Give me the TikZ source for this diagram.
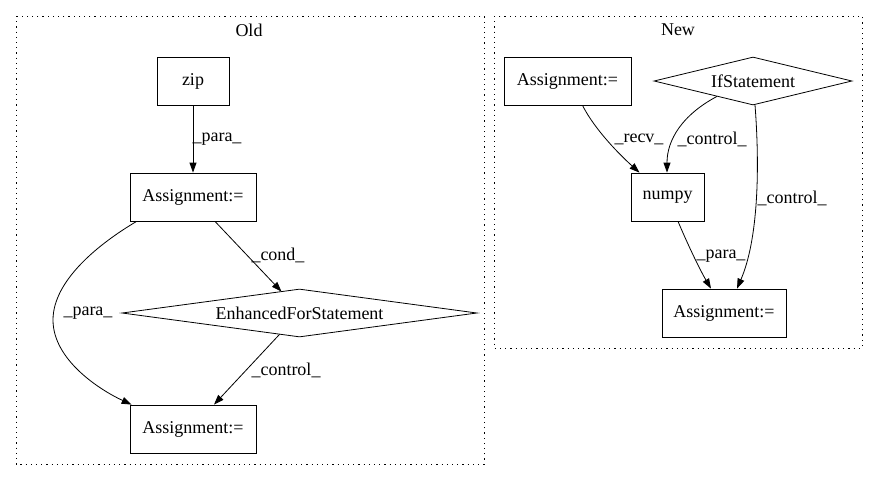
\documentclass[tikz,border=0pt]{standalone}
\usepackage{fontspec}
\setmainfont{Liberation Serif}
\usetikzlibrary{shapes.geometric,arrows.meta,calc}
\begin{document}
\begin{tikzpicture}[x=1pt,y=-1pt,
  every node/.style={font=\fontsize{18}{21}\selectfont},
  box/.style={draw,line width=0.8pt,rectangle,inner sep=0pt},
  dia/.style={draw,line width=0.8pt,diamond,inner sep=0pt},
  cluster/.style={draw,line width=0.8pt,dash pattern=on 1.2pt off 4pt},
  edge/.style={line width=0.8pt,-{Triangle[length=10pt,width=7pt]}},
  elabel/.style={inner sep=0pt}]
\useasboundingbox (0,0) rectangle (879,480);
% clusters
\draw[cluster] (16,16) rectangle (484,464);
\draw[cluster] (494,16) rectangle (862,348);
\node (oldlbl) at (249,30) {Old};
\node (newlbl) at (678,30) {New};
% Old nodes
\node[box,minimum width=72pt,minimum height=48pt] (zip) at (193,81) {zip};
\node[box,minimum width=126pt,minimum height=48pt] (a1) at (193,197) {Assignment:=};
\node[dia,minimum width=355pt,minimum height=48pt,aspect=7.4] (efs) at (299.5,313) {EnhancedForStatement};
\node[box,minimum width=126pt,minimum height=48pt] (a2) at (193,429) {Assignment:=};
% New nodes
\node[box,minimum width=127pt,minimum height=48pt] (a3) at (567.5,81) {Assignment:=};
\node[dia,minimum width=198pt,minimum height=48pt,aspect=4.125] (ifs) at (753,81) {IfStatement};
\node[box,minimum width=73pt,minimum height=48pt] (np) at (667.5,197) {numpy};
\node[box,minimum width=124pt,minimum height=48pt] (a4) at (724,313) {Assignment:=};
% Old edges
\draw[edge] (zip.south) -- (a1.north);
\draw[edge] ([xshift=22pt]a1.south) -- ([xshift=-18pt,yshift=-3pt]efs.north);
\draw[edge] ([xshift=-20pt,yshift=3pt]efs.south) -- ([xshift=21pt]a2.north);
\draw[edge] ([xshift=7pt]a1.south west) .. controls (100,243) and (53,280) .. (53,320)
  .. controls (53,360) and (100,390) .. ([xshift=2pt]a2.north west);
% New edges
\draw[edge] ([xshift=15pt]a3.south) .. controls (595,130) and (620,155) .. ([xshift=-28pt]np.north);
\draw[edge] ([xshift=-36pt,yshift=9pt]ifs.south) .. controls (682,115) and (667,140) .. ([xshift=-0.5pt]np.north);
\draw[edge] ([xshift=2pt,yshift=0.5pt]ifs.south) .. controls (760,170) and (758,240) .. ([xshift=13pt]a4.north);
\draw[edge] ([xshift=10.5pt]np.south) .. controls (688,245) and (700,270) .. ([xshift=-13pt]a4.north);
% Edge labels
\node[elabel] (l1) at (217,139) {\_para\_};
\node[elabel] (l2) at (278,255) {\_cond\_};
\node[elabel] (l3) at (88,313) {\_para\_};
\node[elabel] (l4) at (286,370) {\_control\_};
\node[elabel] (l5) at (639,139) {\_recv\_};
\node[elabel] (l6) at (712,139) {\_control\_};
\node[elabel] (l7) at (792,198) {\_control\_};
\node[elabel] (l8) at (721,256) {\_para\_};
\end{tikzpicture}
\end{document}
